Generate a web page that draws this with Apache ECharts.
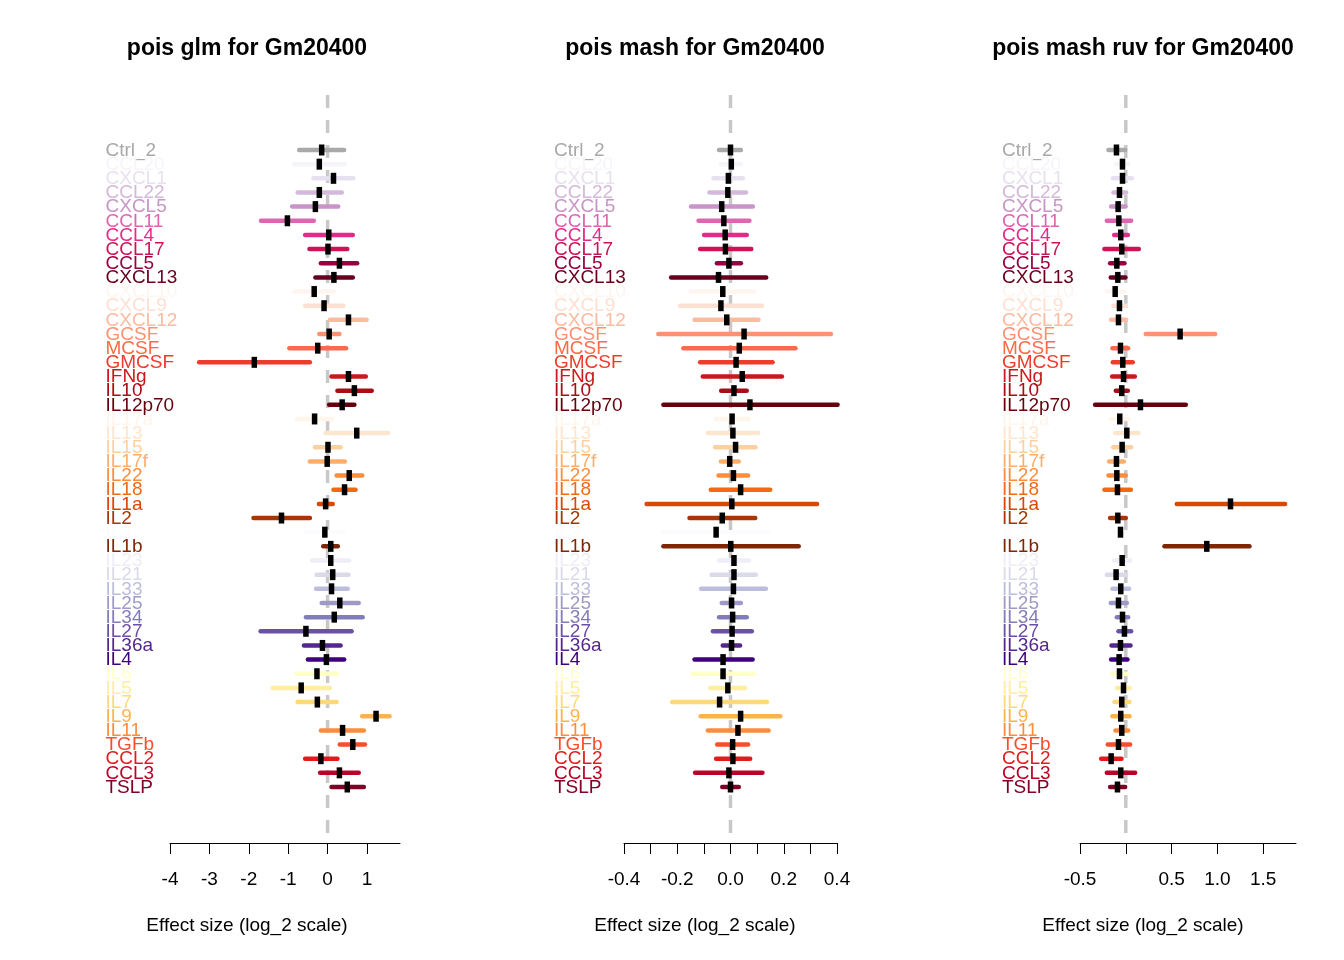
<!DOCTYPE html>
<html>
<head>
<meta charset="utf-8">
<title>pois Gm20400</title>
<script src="https://cdn.jsdelivr.net/npm/echarts@6/dist/echarts.min.js"></script>
<style>
html,body{margin:0;padding:0;background:#fff}
#main{width:1344px;height:960px}
</style>
</head>
<body>
<div id="main"></div>
<script>
// 行名称 (从上到下)
var names = ['Ctrl_2','CCL20','CXCL1','CCL22','CXCL5','CCL11','CCL4','CCL17','CCL5','CXCL13',
  'CXCL10','CXCL9','CXCL12','GCSF','MCSF','GMCSF','IFNg','IL10','IL12p70',
  'IL17a','IL13','IL15','IL17f','IL22','IL18','IL1a','IL2','IL3','IL1b',
  'IL23','IL21','IL33','IL25','IL34','IL27','IL36a','IL4',
  'IL6','IL5','IL7','IL9','IL11','TGFb','CCL2','CCL3','TSLP'];
var colors = ['#a9a9a9',
  '#f7f4f9','#e7e1ef','#d4b9da','#c994c7','#df65b0','#e7298a','#ce1256','#980043','#67001f',
  '#fff5f0','#fee0d2','#fcbba1','#fc9272','#fb6a4a','#ef3b2c','#cb181d','#a50f15','#67000d',
  '#fff5eb','#fee6ce','#fdd0a2','#fdae6b','#fd8d3c','#f16913','#d94801','#a63603','#fcfbfd','#7f2704',
  '#efedf5','#dadaeb','#bcbddc','#9e9ac8','#807dba','#6a51a3','#54278f','#3f007d',
  '#ffffcc','#ffeda0','#fed976','#feb24c','#fd8d3c','#fc4e2a','#e31a1c','#bd0026','#800026'];

// pois glm
var lo1  = [-0.72,-0.85,-0.36,-0.76,-0.90,-1.69,-0.57,-0.46,-0.17,-0.31,-0.83,-0.57,0.06,-0.21,-0.97,-3.26,0.10,0.25,0.04,
  -0.78,-0.05,-0.32,-0.45,0.23,0.15,-0.22,-1.88,-0.55,-0.11,-0.39,-0.28,-0.29,-0.15,-0.55,-1.70,-0.60,-0.50,
  -0.79,-1.39,-0.76,0.88,-0.17,0.31,-0.57,-0.19,0.10];
var est1 = [-0.15,-0.21,0.15,-0.21,-0.31,-1.02,0.03,0.01,0.30,0.16,-0.34,-0.09,0.53,0.04,-0.25,-1.86,0.53,0.68,0.37,
  -0.33,0.74,0.01,-0.01,0.55,0.43,-0.05,-1.17,-0.07,0.08,0.08,0.13,0.10,0.31,0.17,-0.55,-0.13,-0.03,
  -0.27,-0.67,-0.26,1.23,0.38,0.64,-0.17,0.30,0.50];
var hi1  = [0.42,0.44,0.65,0.36,0.27,-0.35,0.64,0.50,0.75,0.64,0.16,0.40,0.99,0.30,0.47,-0.45,0.97,1.12,0.68,
  0.12,1.54,0.33,0.44,0.88,0.71,0.13,-0.45,0.41,0.26,0.55,0.53,0.51,0.79,0.89,0.61,0.33,0.42,
  0.25,0.06,0.23,1.57,0.92,0.95,0.25,0.79,0.92];

// pois mash
var lo2  = [-0.043,-0.036,-0.064,-0.079,-0.148,-0.120,-0.099,-0.114,-0.051,-0.223,-0.149,-0.189,-0.135,-0.271,-0.177,-0.114,-0.104,-0.035,-0.252,
  -0.054,-0.085,-0.058,-0.036,-0.045,-0.074,-0.315,-0.154,-0.252,-0.252,-0.043,-0.071,-0.110,-0.033,-0.043,-0.066,-0.029,-0.135,
  -0.144,-0.076,-0.219,-0.112,-0.085,-0.050,-0.054,-0.133,-0.031];
var est2 = [0.000,0.003,-0.008,-0.010,-0.033,-0.025,-0.020,-0.019,-0.006,-0.045,-0.029,-0.036,-0.014,0.051,0.033,0.021,0.044,0.013,0.073,
  0.006,0.009,0.019,-0.003,0.011,0.038,0.005,-0.031,-0.054,0.001,0.013,0.013,0.011,0.004,0.008,0.006,0.004,-0.028,
  -0.028,-0.010,-0.041,0.038,0.028,0.008,0.009,-0.006,0.000];
var hi2  = [0.039,0.040,0.046,0.058,0.084,0.071,0.061,0.078,0.039,0.134,0.090,0.118,0.105,0.377,0.244,0.158,0.193,0.061,0.402,
  0.068,0.104,0.094,0.031,0.066,0.149,0.325,0.093,0.143,0.256,0.070,0.095,0.133,0.039,0.061,0.080,0.036,0.083,
  0.089,0.055,0.137,0.187,0.143,0.066,0.074,0.120,0.031];

// pois mash ruv
var lo3  = [-0.189,-0.106,-0.142,-0.135,-0.160,-0.207,-0.127,-0.233,-0.171,-0.164,-0.207,-0.135,-0.160,0.218,-0.146,-0.142,-0.149,-0.109,-0.335,
  -0.164,-0.116,-0.138,-0.182,-0.189,-0.233,0.557,-0.171,-0.124,0.422,-0.127,-0.207,-0.146,-0.164,-0.098,-0.080,-0.156,-0.160,
  -0.149,-0.095,-0.124,-0.146,-0.113,-0.197,-0.269,-0.207,-0.171];
var est3 = [-0.102,-0.036,-0.036,-0.069,-0.084,-0.076,-0.055,-0.044,-0.098,-0.087,-0.116,-0.069,-0.080,0.593,-0.058,-0.033,-0.025,-0.044,0.160,
  -0.066,0.011,-0.040,-0.102,-0.098,-0.091,1.143,-0.087,-0.058,0.884,-0.040,-0.106,-0.055,-0.080,-0.036,-0.015,-0.058,-0.073,
  -0.069,-0.025,-0.044,-0.055,-0.044,-0.080,-0.160,-0.055,-0.091];
var hi3  = [-0.007,0.025,0.066,0.004,-0.004,0.058,0.022,0.142,-0.015,-0.004,-0.018,0.000,0.004,0.975,0.025,0.076,0.098,0.022,0.655,
  0.029,0.138,0.058,-0.022,0.000,0.055,1.739,0.000,0.011,1.350,0.047,0.004,0.036,0.011,0.025,0.058,0.051,0.018,
  0.015,0.040,0.040,0.040,0.025,0.047,-0.047,0.102,-0.007];

// 坐标轴刻度
var ticks1 = [-4,-3,-2,-1,0,1];
var tickLabels1 = [-4,-3,-2,-1,0,1];
var ticks2 = [-0.4,-0.3,-0.2,-0.1,0,0.1,0.2,0.3,0.4];
var tickLabels2 = [-0.4,-0.2,0,0.2,0.4];
var ticks3 = [-0.5,0,0.5,1,1.5];
var tickLabels3 = [-0.5,0.5,1,1.5];

var FONT = '"Liberation Sans", Arial, Helvetica, sans-serif';
var Y_MIN = -3.885, Y_MAX = 48.956;

var panels = [
  {title:'pois glm for Gm20400', lo:lo1, est:est1, hi:hi1, left:170, width:230, min:-4, max:1.838,
   ticks:ticks1, labels:tickLabels1, digits:0, labelX:105.5, center:247},
  {title:'pois mash for Gm20400', lo:lo2, est:est2, hi:hi2, left:624, width:213, min:-0.4, max:0.4,
   ticks:ticks2, labels:tickLabels2, digits:1, labelX:554, center:695},
  {title:'pois mash ruv for Gm20400', lo:lo3, est:est3, hi:hi3, left:1080, width:216, min:-0.5, max:1.858,
   ticks:ticks3, labels:tickLabels3, digits:1, labelX:1002, center:1143}
];

/**
 * 画置信区间横线
 */
function renderCI(params, api){
  var i = api.value(2);
  var p0 = api.coord([api.value(0), i]);
  var p1 = api.coord([api.value(1), i]);
  return {
    type:'line',
    shape:{x1:p0[0], y1:p0[1], x2:p1[0], y2:p1[1]},
    style:{stroke:colors[i], lineWidth:4.5, lineCap:'round'}
  };
}

/**
 * 行标签 (行距小于字高, 轴标签会被自动隐藏, 所以用 custom 画)
 */
function makeRowLabel(shift){
  return function(params, api){
    var i = api.value(1);
    var pt = api.coord([api.value(0), i]);
    return {
      type:'text', x:pt[0] - shift, y:pt[1] + 0.5,
      style:{text:names[i], fill:colors[i], fontSize:19, fontFamily:FONT,
        align:'left', verticalAlign:'middle', textAlign:'left', textVerticalAlign:'middle'}
    };
  };
}

var grids = [], xAxes = [], yAxes = [], series = [], texts = [];
panels.forEach(function(p, k){
  grids.push({left:p.left, width:p.width, top:95, height:748, outerBoundsMode:'none', containLabel:false});
  xAxes.push({
    type:'value', gridIndex:k, min:p.min, max:p.max,
    splitLine:{show:false},
    axisLine:{show:true, onZero:false, lineStyle:{color:'#000', width:1}},
    axisTick:{show:true, customValues:p.ticks, length:11, lineStyle:{color:'#000', width:1}},
    axisLabel:{customValues:p.labels, margin:27, fontSize:19, fontFamily:FONT, color:'#000',
      showMinLabel:true, showMaxLabel:true,
      formatter:(function(d){ return function(v){ return Number(v).toFixed(d); }; })(p.digits)}
  });
  yAxes.push({
    type:'value', gridIndex:k, inverse:true, min:Y_MIN, max:Y_MAX,
    splitLine:{show:false},
    axisLine:{show:false, onZero:false},
    axisTick:{show:false},
    axisLabel:{show:false}
  });
  // 0 处虚线
  series.push({
    type:'line', xAxisIndex:k, yAxisIndex:k, z:1, symbol:'none', silent:true,
    data:[[0, Y_MIN], [0, Y_MAX]],
    lineStyle:{color:'#c8c8c8', width:3.5, type:[13,12]}
  });
  series.push({
    type:'custom', xAxisIndex:k, yAxisIndex:k, z:2, renderItem:renderCI,
    encode:{x:[0,1], y:2},
    data:p.lo.map(function(v,i){ return [v, p.hi[i], i]; })
  });
  series.push({
    type:'scatter', xAxisIndex:k, yAxisIndex:k, z:3,
    symbol:'rect', symbolSize:[5.5,11], itemStyle:{color:'#000', opacity:1},
    data:p.est.map(function(v,i){ return [v, i]; })
  });
  series.push({
    type:'custom', xAxisIndex:k, yAxisIndex:k, z:4, silent:true, clip:false,
    renderItem:makeRowLabel(p.left - p.labelX),
    encode:{x:0, y:1},
    data:names.map(function(n,i){ return [p.min, i]; })
  });
  texts.push({type:'text', x:p.center, y:49,
    style:{text:p.title, fontSize:23, fontWeight:'bold', fontFamily:FONT, fill:'#000',
      textAlign:'center', textVerticalAlign:'middle', align:'center', verticalAlign:'middle'}});
  texts.push({type:'text', x:p.center, y:926,
    style:{text:'Effect size (log_2 scale)', fontSize:19, fontFamily:FONT, fill:'#000',
      textAlign:'center', textVerticalAlign:'middle', align:'center', verticalAlign:'middle'}});
});

var myChart = echarts.init(document.getElementById('main'));
myChart.setOption({
  backgroundColor:'#fff',
  animation:false,
  grid:grids,
  xAxis:xAxes,
  yAxis:yAxes,
  series:series,
  graphic:texts
});
</script>
</body>
</html>
